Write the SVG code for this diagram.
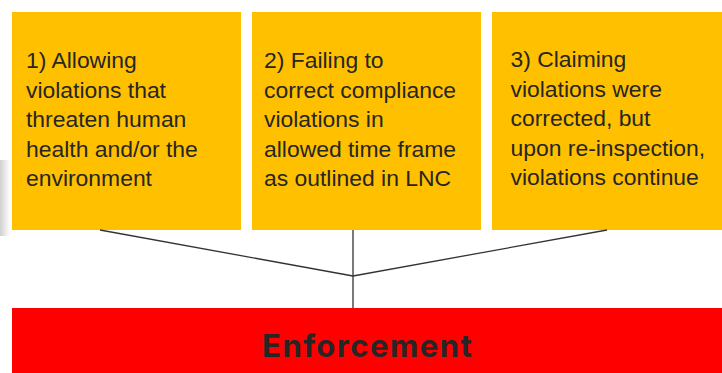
<svg xmlns="http://www.w3.org/2000/svg" width="722" height="373" viewBox="0 0 722 373">
<defs>
<linearGradient id="shade" x1="0" y1="0" x2="1" y2="0">
<stop offset="0" stop-color="#d0d0d0"/>
<stop offset="1" stop-color="#ffffff"/>
</linearGradient>
<style>
.box{fill:#FFC000;}
.t{font-family:"Liberation Sans",Arial,sans-serif;font-size:22.9px;fill:#262626;}
.c{stroke:#333333;stroke-width:1.3;fill:none;}
.e{font-family:Inter,"Open Sans","Liberation Sans",sans-serif;font-weight:bold;font-size:31px;letter-spacing:1.5px;fill:#262626;}
</style>
</defs>
<rect width="722" height="373" fill="#ffffff"/>
<rect x="0" y="160" width="10" height="76" fill="url(#shade)"/>
<g id="node1">
<rect class="box" x="12" y="12" width="229" height="218"/>
<text class="t" x="26" y="68">1) Allowing</text>
<text class="t" x="26" y="97.5">violations that</text>
<text class="t" x="26" y="127">threaten human</text>
<text class="t" x="26" y="156.5">health and/or the</text>
<text class="t" x="26" y="186">environment</text>
</g>
<g id="node2">
<rect class="box" x="252" y="12" width="229" height="218"/>
<text class="t" x="264" y="68">2) Failing to</text>
<text class="t" x="264" y="97.5">correct compliance</text>
<text class="t" x="264" y="127">violations in</text>
<text class="t" x="264" y="156.5">allowed time frame</text>
<text class="t" x="264" y="186">as outlined in LNC</text>
</g>
<g id="node3">
<rect class="box" x="492" y="12" width="230" height="218"/>
<text class="t" x="510.5" y="67">3) Claiming</text>
<text class="t" x="510.5" y="96.5">violations were</text>
<text class="t" x="510.5" y="126">corrected, but</text>
<text class="t" x="510.5" y="155.5">upon re-inspection,</text>
<text class="t" x="510.5" y="185">violations continue</text>
</g>
<g id="connectors">
<line class="c" x1="100" y1="230" x2="353" y2="276"/>
<line class="c" x1="607" y1="230" x2="353" y2="276"/>
<line class="c" x1="353" y1="230" x2="353" y2="308"/>
</g>
<g id="enforcement">
<rect x="12" y="308" width="710" height="65" fill="#FF0000"/>
<text class="e" x="367.7" y="357" text-anchor="middle">Enforcement</text>
</g>
</svg>
